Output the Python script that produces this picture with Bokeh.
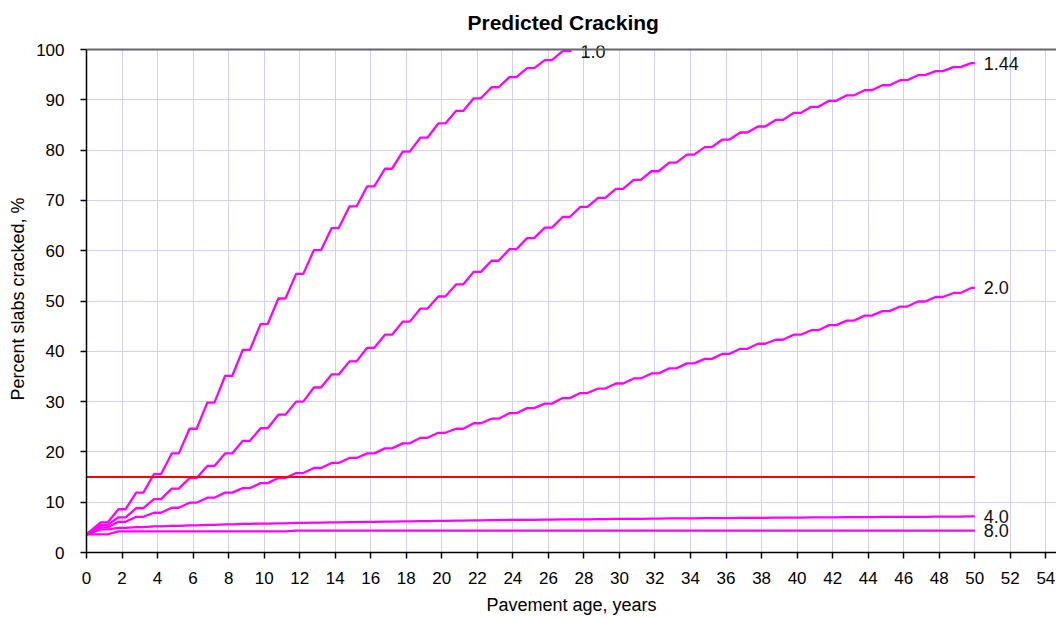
from bokeh.plotting import figure
from bokeh.models import Span, FixedTicker, Range1d, ColumnDataSource, BoxAnnotation
from bokeh.core.properties import value
from bokeh.embed import file_html
from bokeh.resources import INLINE

# ---- data (plateau value reached in each year j = 1, 2, ...) ----
start_value = 3.6
threshold = 15
threshold_end = 50

curve_labels = ["1.0", "1.44", "2.0", "4.0", "8.0"]
end_years = [27.3, 50, 50, 50, 50]

vals_10 = [6.0, 8.6, 11.9, 15.6, 19.7, 24.6, 29.8, 35.1, 40.3, 45.4,
           50.5, 55.4, 60.1, 64.5, 68.8, 72.8, 76.3, 79.7, 82.5, 85.3,
           87.8, 90.3, 92.5, 94.5, 96.3, 97.9, 99.7]
vals_144 = [5.5, 7.0, 8.8, 10.6, 12.7, 14.8, 17.2, 19.7, 22.2, 24.7,
            27.4, 30.0, 32.8, 35.4, 38.0, 40.7, 43.3, 45.9, 48.5, 50.9,
            53.3, 55.8, 58.0, 60.3, 62.5, 64.6, 66.7, 68.7, 70.5, 72.3,
            74.1, 75.8, 77.5, 79.1, 80.6, 82.1, 83.5, 84.7, 86.0, 87.4,
            88.6, 89.8, 90.9, 91.9, 92.9, 93.9, 94.9, 95.7, 96.5, 97.3]
vals_20 = [5.0, 6.1, 7.1, 7.9, 8.9, 9.9, 10.9, 11.9, 12.8, 13.8,
           14.8, 15.8, 16.8, 17.8, 18.8, 19.7, 20.7, 21.7, 22.8, 23.8,
           24.6, 25.7, 26.6, 27.7, 28.7, 29.6, 30.7, 31.7, 32.6, 33.6,
           34.6, 35.6, 36.6, 37.6, 38.5, 39.5, 40.5, 41.5, 42.3, 43.3,
           44.2, 45.2, 46.1, 47.1, 48.0, 48.9, 49.9, 50.8, 51.6, 52.6]
vals_40 = [4.6, 4.9, 5.05, 5.2, 5.3, 5.4, 5.5, 5.6, 5.7, 5.75,
           5.8, 5.9, 5.95, 6.0, 6.05, 6.1, 6.15, 6.2, 6.25, 6.3,
           6.35, 6.4, 6.45, 6.5, 6.5, 6.55, 6.6, 6.6, 6.65, 6.7,
           6.7, 6.75, 6.8, 6.8, 6.85, 6.85, 6.9, 6.9, 6.95, 6.95,
           7.0, 7.0, 7.05, 7.05, 7.1, 7.1, 7.1, 7.15, 7.15, 7.2]
vals_80 = [3.6, 4.2, 4.2, 4.2, 4.2, 4.2, 4.2, 4.2, 4.2, 4.2,
           4.2, 4.35, 4.35, 4.35, 4.35, 4.35, 4.35, 4.35, 4.35, 4.35,
           4.35, 4.35, 4.35, 4.35, 4.35, 4.35, 4.35, 4.35, 4.35, 4.35,
           4.35, 4.35, 4.35, 4.35, 4.35, 4.35, 4.35, 4.35, 4.35, 4.35,
           4.35, 4.35, 4.35, 4.35, 4.35, 4.35, 4.35, 4.35, 4.35, 4.35]

all_vals = [vals_10, vals_144, vals_20, vals_40, vals_80]

# seasonal step: plateau spans j-0.2 .. j+0.2, cracking grows in between
HALF = 0.2
Y_MAX = 100


def seasonal_path(vals, end_x):
    xs, ys = [0.0], [start_value]
    for j, v in enumerate(vals, start=1):
        for x in (j - HALF, j + HALF):
            if x < end_x:
                xs.append(x)
                ys.append(v)
    xs.append(end_x)
    ys.append(vals[-1])
    return xs, ys


p = figure(width=1056, height=618,
           x_range=Range1d(0, 54.6), y_range=Range1d(0, 100.8),
           output_backend="svg", toolbar_location=None,
           title="Predicted Cracking",
           min_border_left=86, min_border_right=0,
           min_border_top=44, min_border_bottom=66)

FONT = "Liberation Sans"
p.title.align = "left"
p.title.offset = 381
p.title.vertical_align = "top"
p.title.text_font = FONT
p.title.text_font_size = "21px"
p.title.text_font_style = "bold"
p.title.text_color = "#000000"
p.title.standoff = 20

p.outline_line_color = None
p.background_fill_color = "white"
p.border_fill_color = "white"

p.xaxis.ticker = FixedTicker(ticks=list(range(0, 55, 2)))
p.yaxis.ticker = FixedTicker(ticks=list(range(0, 101, 10)))
p.yaxis.bounds = (0, Y_MAX)
for ax in (p.xaxis[0], p.yaxis[0]):
    ax.axis_line_color = "#000000"
    ax.axis_line_width = 1.5
    ax.major_tick_line_color = "#000000"
    ax.major_tick_line_width = 1.5
    ax.major_tick_in = 0
    ax.major_tick_out = 6
    ax.minor_tick_line_color = None
    ax.major_label_text_font = FONT
    ax.major_label_text_font_size = "17px"
    ax.major_label_text_color = "#000000"
    ax.axis_label_text_font = FONT
    ax.axis_label_text_font_size = "18px"
    ax.axis_label_text_font_style = "normal"
    ax.axis_label_text_color = "#000000"
p.xaxis.axis_label = "Pavement age, years"
p.yaxis.axis_label = "Percent slabs cracked, %"
p.xaxis.major_label_standoff = 13
p.yaxis.major_label_standoff = 16
p.xaxis.axis_label_standoff = 8
p.yaxis.axis_label_standoff = 5

p.xgrid.grid_line_color = "#d0d0fa"
p.ygrid.grid_line_color = "#d0d0fa"
p.xgrid.grid_line_width = 1
p.ygrid.grid_line_width = 1

# blank strip above the 100 % line (covers grid only)
p.add_layout(BoxAnnotation(bottom=Y_MAX, fill_color="white", fill_alpha=1,
                           line_color=None, level="underlay"))
p.add_layout(Span(location=Y_MAX, dimension="width", line_color="#66666e", line_width=2))

for vals, end_x, lab in zip(all_vals, end_years, curve_labels):
    xs, ys = seasonal_path(vals, end_x)
    p.line(xs, ys, line_color="#ff00ff", line_width=2.3, line_join="round")

p.line([0, threshold_end], [threshold, threshold], line_color="#ff0000", line_width=2)

lab_src = ColumnDataSource(dict(
    x=[e + 0.5 for e in end_years],
    y=[v[-1] for v in all_vals],
    t=curve_labels))
p.text(x="x", y="y", text="t", source=lab_src, text_font=value(FONT),
       text_font_size="18px", text_baseline="middle", text_align="left",
       text_color="#111111")

open("out.html", "w").write(file_html(p, INLINE))
